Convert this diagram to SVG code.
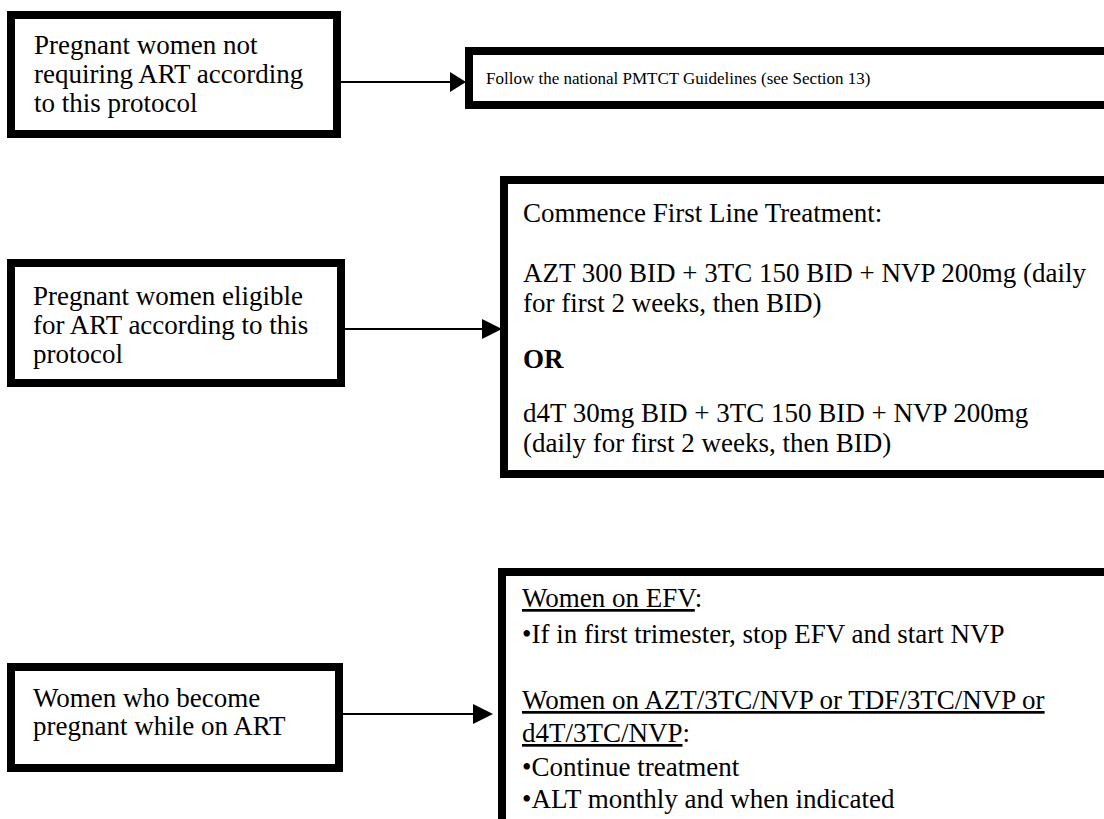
<svg xmlns="http://www.w3.org/2000/svg" width="1104" height="819" viewBox="0 0 1104 819">
  <defs>
    <style>
      .box { fill: #ffffff; stroke: #000000; stroke-width: 8; }
      .txt { font-family: "Liberation Serif", "Times New Roman", serif; font-size: 27px; fill: #000000; }
      .small { font-size: 17px; }
      .bold { font-weight: bold; }
      .u { text-decoration: underline; }
      .link { stroke: #000000; stroke-width: 2; fill: none; }
      .head { fill: #000000; }
    </style>
  </defs>
  <rect width="1104" height="819" fill="#ffffff"/>

  <!-- Row 1: women not requiring ART -->
  <g id="node-not-requiring">
    <rect class="box" x="11" y="15" width="326" height="119"/>
    <text class="txt" x="34" y="54">Pregnant women not</text>
    <text class="txt" x="34" y="83">requiring ART according</text>
    <text class="txt" x="34" y="112">to this protocol</text>
  </g>
  <g id="node-pmtct">
    <rect class="box" x="469" y="51" width="700" height="54"/>
    <text class="txt small" x="486" y="84">Follow the national PMTCT Guidelines (see Section 13)</text>
  </g>

  <!-- Row 2: women eligible for ART -->
  <g id="node-eligible">
    <rect class="box" x="11" y="263" width="330" height="120"/>
    <text class="txt" x="33" y="305">Pregnant women eligible</text>
    <text class="txt" x="33" y="334">for ART according to this</text>
    <text class="txt" x="33" y="363">protocol</text>
  </g>
  <g id="node-first-line">
    <rect class="box" x="504" y="180" width="700" height="294"/>
    <text class="txt" x="523" y="222">Commence First Line Treatment:</text>
    <text class="txt" x="523" y="282">AZT 300 BID + 3TC 150 BID + NVP 200mg (daily</text>
    <text class="txt" x="523" y="312">for first 2 weeks, then BID)</text>
    <text class="txt bold" x="523" y="368">OR</text>
    <text class="txt" x="523" y="422">d4T 30mg BID + 3TC 150 BID + NVP 200mg</text>
    <text class="txt" x="523" y="452">(daily for first 2 weeks, then BID)</text>
  </g>

  <!-- Row 3: women who become pregnant while on ART -->
  <g id="node-on-art">
    <rect class="box" x="11" y="667" width="328" height="101"/>
    <text class="txt" x="33" y="707">Women who become</text>
    <text class="txt" x="33" y="735">pregnant while on ART</text>
  </g>
  <g id="node-on-art-actions">
    <rect class="box" x="502" y="572" width="700" height="400"/>
    <text class="txt" x="522" y="607"><tspan class="u">Women on EFV</tspan>:</text>
    <text class="txt" x="522" y="643">•If in first trimester, stop EFV and start NVP</text>
    <text class="txt" x="522" y="709"><tspan class="u">Women on AZT/3TC/NVP or TDF/3TC/NVP or</tspan></text>
    <text class="txt" x="522" y="742"><tspan class="u">d4T/3TC/NVP</tspan>:</text>
    <text class="txt" x="522" y="776">•Continue treatment</text>
    <text class="txt" x="522" y="808">•ALT monthly and when indicated</text>
  </g>

  <!-- Connectors -->
  <g id="connectors">
    <line class="link" x1="341" y1="82" x2="451" y2="82"/>
    <polygon class="head" points="450,72 466,82 450,92"/>
    <line class="link" x1="345" y1="329" x2="483" y2="329"/>
    <polygon class="head" points="482,319 502,329 482,339"/>
    <line class="link" x1="343" y1="714" x2="474" y2="714"/>
    <polygon class="head" points="473,704 493,714 473,724"/>
  </g>
</svg>
